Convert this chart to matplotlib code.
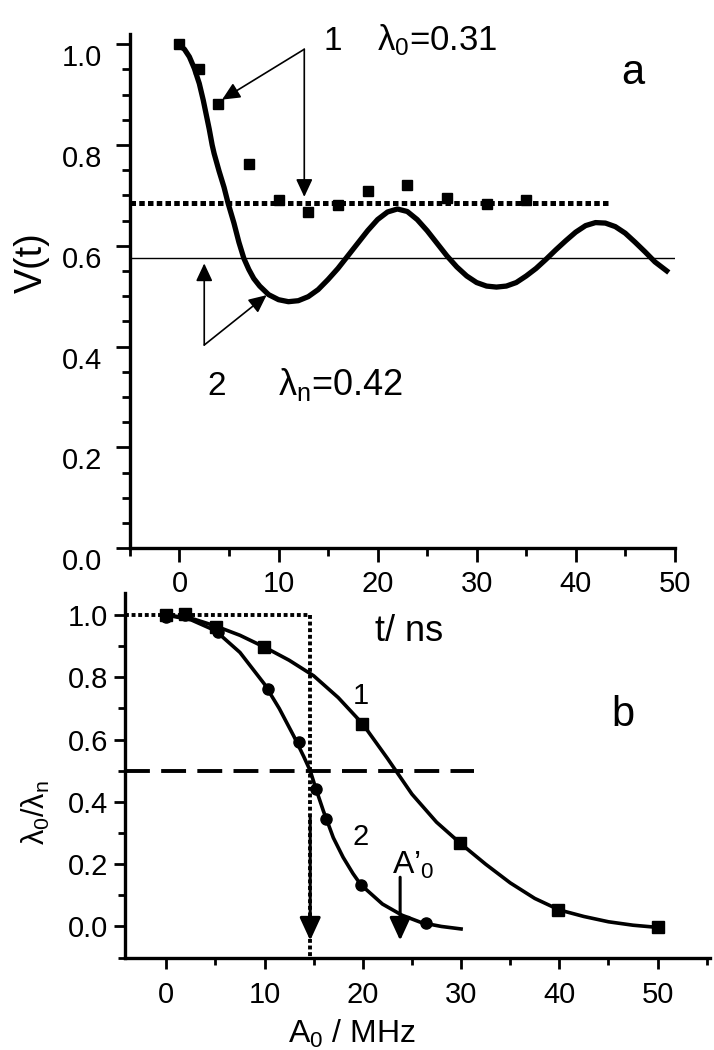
import numpy as np
import matplotlib
matplotlib.use("Agg")
import matplotlib.pyplot as plt
from matplotlib.ticker import MultipleLocator, FormatStrFormatter

plt.rcParams['font.family'] = ['Liberation Sans', 'DejaVu Sans']
plt.rcParams['mathtext.fontset'] = 'custom'
plt.rcParams['mathtext.rm'] = 'Liberation Sans'
plt.rcParams['mathtext.it'] = 'Liberation Sans'
plt.rcParams['mathtext.default'] = 'regular'

# ---- panel a: V(t) ----
t_pts = [0, 2.0, 3.9, 7.0, 10, 13, 16, 19, 23, 27, 31, 35]
v_pts = [1.0, 0.95, 0.881, 0.763, 0.69, 0.667, 0.68, 0.709, 0.72, 0.694, 0.683, 0.69]

t_fit = [-0.2, 0.5, 1.0, 1.5, 2.0, 2.4, 3.0, 3.3, 3.5, 4.0, 4.5, 4.9, 5.5, 6.0, 6.5,
         7.0, 7.5, 8.1, 9.0, 10.0, 11.0, 12.0, 13.0, 14.0, 15.0, 16.0, 17.0, 18.0,
         19.0, 20.0, 21.0, 22.0, 23.0, 24.0, 25.0, 26.0, 27.0, 28.0, 29.0, 30.0,
         31.0, 32.0, 33.0, 34.0, 35.0, 36.0, 37.0, 38.0, 39.0, 40.0, 41.0, 42.0,
         43.0, 44.0, 45.0, 46.0, 47.0, 48.0, 49.0, 49.4]
v_fit = [1.0, 0.99, 0.975, 0.952, 0.922, 0.889, 0.832, 0.80, 0.783, 0.748, 0.716, 0.685,
         0.645, 0.607, 0.575, 0.553, 0.535, 0.52, 0.503, 0.493, 0.489, 0.491, 0.499,
         0.513, 0.533, 0.555, 0.58, 0.605, 0.63, 0.652, 0.667, 0.673, 0.668, 0.652,
         0.63, 0.605, 0.58, 0.558, 0.54, 0.527, 0.52, 0.518, 0.52, 0.527, 0.54, 0.555,
         0.573, 0.592, 0.61, 0.627, 0.64, 0.646, 0.645, 0.638, 0.625, 0.607, 0.588,
         0.568, 0.553, 0.547]

v_lambda0 = 0.685   # 1 - lambda_0
v_lambdan = 0.575   # 1 - lambda_n

# ---- panel b: lambda0/lambdan vs A0 ----
a1_pts = [0, 1.9, 5.1, 9.9, 19.9, 29.9, 39.9, 50.0]
r1_pts = [1.0, 1.003, 0.962, 0.898, 0.649, 0.267, 0.053, -0.003]
a2_pts = [0, 1.9, 5.3, 10.4, 13.5, 15.2, 16.3, 19.8, 26.4]
r2_pts = [0.995, 1.0, 0.946, 0.761, 0.592, 0.44, 0.345, 0.134, 0.01]

a1_fit = [0, 2.5, 5, 7.5, 10, 12.5, 15, 17.5, 20, 22.5, 25, 27.5, 30, 32.5, 35,
          37.5, 40, 42.5, 45, 47.5, 50]
r1_fit = [1.0, 0.99, 0.965, 0.935, 0.897, 0.855, 0.805, 0.735, 0.65, 0.54, 0.425,
          0.335, 0.265, 0.2, 0.14, 0.09, 0.053, 0.032, 0.015, 0.004, -0.003]
a2_fit = [0, 2.5, 5, 7.5, 10, 11.5, 13, 14, 14.65, 15.2, 16, 16.3, 17, 18, 19, 19.8,
          22, 24, 26, 28, 30]
r2_fit = [1.0, 0.985, 0.95, 0.88, 0.778, 0.70, 0.61, 0.545, 0.5, 0.445, 0.37, 0.345,
          0.285, 0.222, 0.17, 0.134, 0.072, 0.036, 0.012, 0.0, -0.008]

a_half = 14.65
a_prime = 23.8

fig = plt.figure(figsize=(7.14, 10.5), dpi=100)
ax1 = fig.add_axes([0.182, 0.478, 0.763, 0.4895])
ax2 = fig.add_axes([0.175, 0.088, 0.819, 0.347])
ax2.patch.set_visible(False)

for ax in (ax1, ax2):
    for s in ('top', 'right'):
        ax.spines[s].set_visible(False)
    for s in ('left', 'bottom'):
        ax.spines[s].set_linewidth(2.4)

# panel a
ax1.plot(t_fit, v_fit, color='k', lw=3.8, solid_capstyle='butt', zorder=3)
ax1.plot(t_pts, v_pts, 's', color='k', ms=6.5, zorder=4)
ax1.plot([-5, 43.5], [v_lambda0, v_lambda0], color='k', lw=3.6,
         linestyle=(0, (1.1, 0.65)), zorder=2)
ax1.plot([-5, 50], [v_lambdan, v_lambdan], color='k', lw=1.0, zorder=2)

thin = dict(arrowstyle='-|>,head_length=0.9,head_width=0.42', color='k', lw=1.2,
            shrinkA=0, shrinkB=0, mutation_scale=12)
ax1.annotate('', xy=(4.3, 0.89), xytext=(12.6, 0.99), arrowprops=thin)
ax1.annotate('', xy=(12.6, 0.697), xytext=(12.6, 0.99), arrowprops=thin)
ax1.annotate('', xy=(2.5, 0.565), xytext=(2.5, 0.403), arrowprops=thin)
ax1.annotate('', xy=(8.8, 0.502), xytext=(2.5, 0.403), arrowprops=thin)

ax1.text(15.5, 0.988, '1', fontsize=24, ha='center', va='baseline')
ax1.text(19.9, 0.988, 'λ$_0$=0.31', fontsize=25, ha='left', va='baseline')
ax1.text(3.8, 0.304, '2', fontsize=24, ha='center', va='baseline')
ax1.text(9.9, 0.304, 'λ$_n$=0.42', fontsize=26, ha='left', va='baseline')
ax1.text(45.8, 0.922, 'a', fontsize=30, ha='center', va='baseline')

ax1.set_xlim(-5, 50)
ax1.set_ylim(0, 1.02)
ax1.xaxis.set_major_locator(MultipleLocator(10))
ax1.xaxis.set_minor_locator(MultipleLocator(5))
ax1.yaxis.set_major_locator(MultipleLocator(0.2))
ax1.yaxis.set_minor_locator(MultipleLocator(0.05))
ax1.yaxis.set_major_formatter(FormatStrFormatter('%.1f'))
ax1.tick_params(which='major', direction='out', length=10, width=2, labelsize=21)
ax1.tick_params(which='minor', direction='out', length=6, width=2)
ax1.tick_params(axis='y', which='major', pad=10)
ax1.tick_params(axis='x', which='major', pad=6)
for lbl in ax1.get_yticklabels():
    lbl.set_verticalalignment('top')
ax1.set_ylabel('V(t)', fontsize=27)
ax1.yaxis.set_label_coords(-0.147, 0.556)
ax1.set_xlabel('t/ ns', fontsize=26)
ax1.xaxis.set_label_coords(0.512, -0.128)

# panel b
ax2.plot(a1_fit, r1_fit, color='k', lw=2.6, zorder=3)
ax2.plot(a2_fit, r2_fit, color='k', lw=2.6, zorder=3)
ax2.plot(a1_pts, r1_pts, 's', color='k', ms=8.5, zorder=4)
ax2.plot(a2_pts, r2_pts, 'o', color='k', ms=8, zorder=4)
ax2.plot([-4.2, a_half], [1.0, 1.0], color='k', lw=2.8, linestyle=(0, (1, 0.7)), zorder=2)
ax2.plot([a_half, a_half], [1.0, -0.1], color='k', lw=2.8, linestyle=(0, (1, 0.7)),
         zorder=2, clip_on=False)
ax2.plot([-4.2, 31.3], [0.5, 0.5], color='k', lw=2.8, linestyle=(0, (6.4, 2.9)), zorder=2)

thick = dict(arrowstyle='-|>,head_length=1.0,head_width=0.46', color='k', lw=2.2,
             shrinkA=0, shrinkB=0, mutation_scale=14)
ax2.annotate('', xy=(a_half, -0.045), xytext=(a_half, 0.35), arrowprops=thick)
ax2.annotate('', xy=(a_prime, -0.045), xytext=(a_prime, 0.158), arrowprops=thick)

ax2.text(19.8, 0.715, '1', fontsize=21, ha='center', va='baseline')
ax2.text(19.8, 0.26, '2', fontsize=21, ha='center', va='baseline')
ax2.text(23.0, 0.17, 'A’$_0$', fontsize=23, ha='left', va='baseline')
ax2.text(46.5, 0.645, 'b', fontsize=30, ha='center', va='baseline')

ax2.set_xlim(-4.2, 55.3)
ax2.set_ylim(-0.1, 1.07)
ax2.xaxis.set_major_locator(MultipleLocator(10))
ax2.xaxis.set_minor_locator(MultipleLocator(5))
ax2.yaxis.set_major_locator(MultipleLocator(0.2))
ax2.yaxis.set_minor_locator(MultipleLocator(0.1))
ax2.yaxis.set_major_formatter(FormatStrFormatter('%.1f'))
ax2.tick_params(which='major', direction='out', length=8, width=2, labelsize=21)
ax2.tick_params(which='minor', direction='out', length=5, width=2)
ax2.tick_params(axis='y', which='major', pad=4)
ax2.tick_params(axis='x', which='major', pad=9)
ax2.set_ylabel('λ$_0$/λ$_n$', fontsize=22)
ax2.yaxis.set_label_coords(-0.125, 0.397)
ax2.set_xlabel('A$_0$ / MHz', fontsize=23)
ax2.xaxis.set_label_coords(0.388, -0.165)

fig.savefig('out.png', dpi=100)
